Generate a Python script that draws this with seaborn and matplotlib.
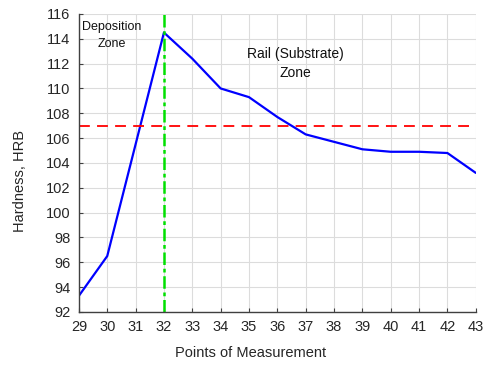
import numpy as np
import pandas as pd
import matplotlib
matplotlib.use("Agg")
import matplotlib.pyplot as plt
import seaborn as sns

# data
points = [29, 30, 31, 32, 33, 34, 35, 36, 37, 38, 39, 40, 41, 42, 43]
hardness = [93.3, 96.5, 105.5, 114.5, 112.4, 110.0, 109.3, 107.7, 106.3,
            105.7, 105.1, 104.9, 104.9, 104.8, 103.2]
threshold_hrb = 107
boundary_point = 32

sns.set_theme(style="whitegrid")
plt.rcParams['font.family'] = ['Liberation Sans', 'DejaVu Sans']

df = pd.DataFrame({"point": points, "hardness": hardness})

fig, ax = plt.subplots(figsize=(4.84, 3.67), dpi=100)
sns.lineplot(data=df, x="point", y="hardness", color="#0000ff", linewidth=1.6, ax=ax)

ax.axhline(threshold_hrb, color="#ff0000", linestyle=(0, (6, 4)), linewidth=1.3)
ax.axvline(boundary_point, color="#00e000", linestyle=(0, (5, 1.5, 1.5, 1.5)), linewidth=1.8)

ax.set_xlim(29, 43)
ax.set_ylim(92, 116)
ax.set_xticks(np.arange(29, 44, 1))
ax.set_yticks(np.arange(92, 117, 2))
ax.grid(True, color="#dcdcdc", linewidth=0.8)

for side in ["top", "right"]:
    ax.spines[side].set_visible(False)
for side in ["left", "bottom"]:
    ax.spines[side].set_color("#404040")
    ax.spines[side].set_linewidth(1.0)

ax.tick_params(axis="both", direction="in", length=3, width=0.8, colors="#404040",
               labelcolor="#262626", labelsize=10.5, left=True, bottom=True, pad=6)

ax.set_xlabel("Points of Measurement", fontsize=10.5, color="#262626")
ax.set_ylabel("Hardness, HRB", fontsize=10.5, color="#262626")
# labels sit a bit off-centre in the original
ax.xaxis.set_label_coords(0.432, -0.113)
ax.yaxis.set_label_coords(-0.131, 0.44)

ax.text(30.15, 114.3, "Deposition\nZone", ha="center", va="center", fontsize=9,
        linespacing=1.55, color="#111111")
ax.text(36.65, 112.0, "Rail (Substrate)\nZone", ha="center", va="center", fontsize=10,
        linespacing=1.5, color="#111111")

fig.subplots_adjust(left=0.163, right=0.983, top=0.962, bottom=0.15)
fig.savefig("out.png", dpi=100)
